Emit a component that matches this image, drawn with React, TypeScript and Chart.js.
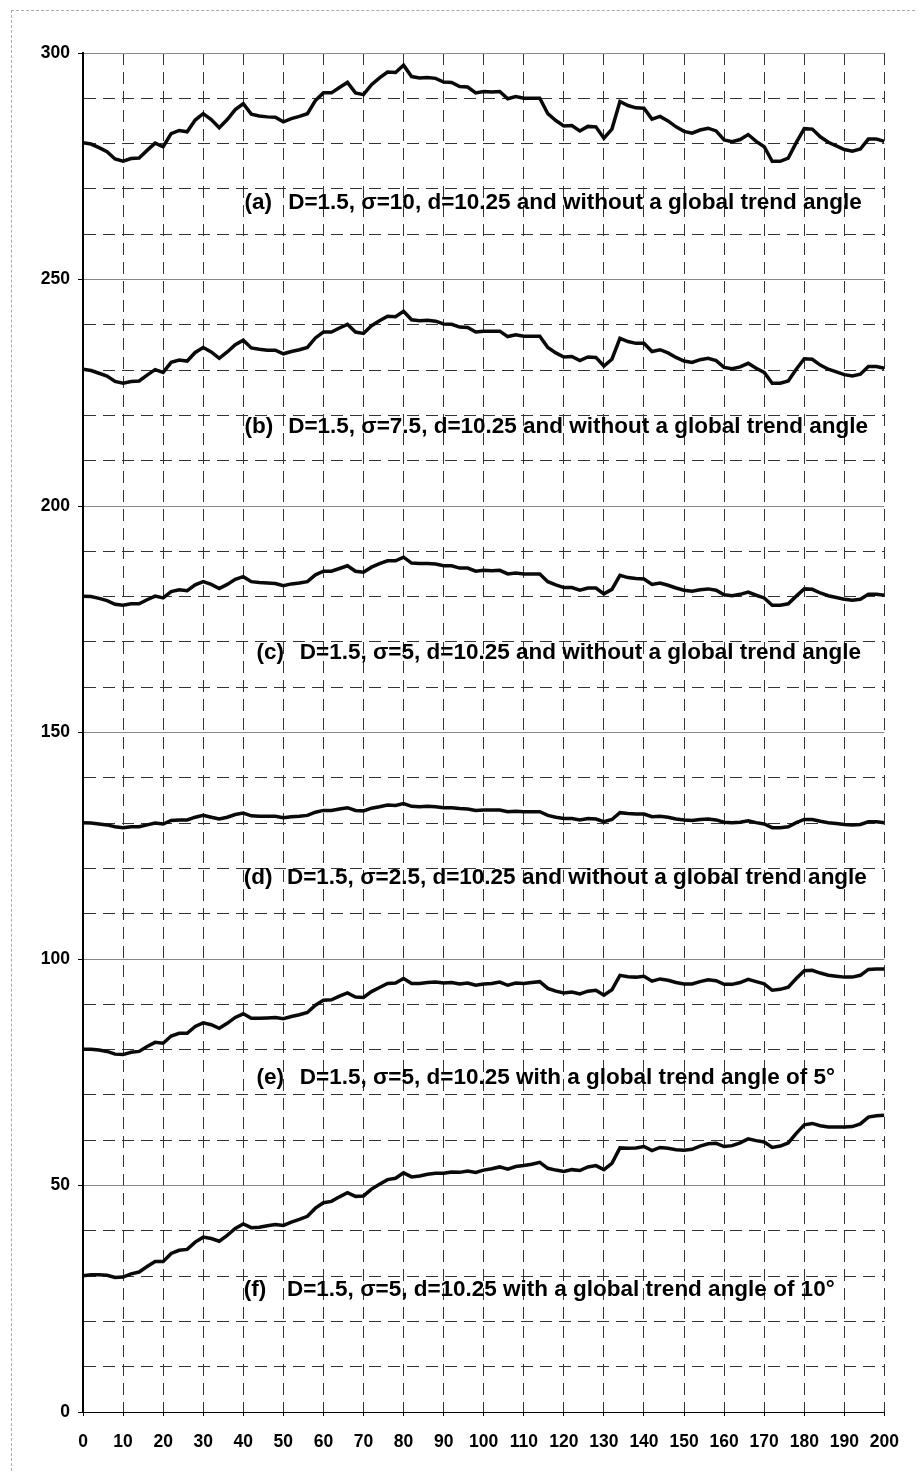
import React, { useEffect, useRef } from 'react';
import { Chart, registerables } from 'chart.js';

Chart.register(...registerables);

// x positions of the sampled points
const xValues = [
  0, 2, 4, 6, 8, 10, 12, 14, 16, 18, 20, 22, 24, 26, 28, 30, 32, 34, 36, 38,
  40, 42, 44, 46, 48, 50, 52, 54, 56, 58, 60, 62, 64, 66, 68, 70, 72, 74, 76, 78,
  80, 82, 84, 86, 88, 90, 92, 94, 96, 98, 100, 102, 104, 106, 108, 110, 112, 114, 116, 118,
  120, 122, 124, 126, 128, 130, 132, 134, 136, 138, 140, 142, 144, 146, 148, 150, 152, 154, 156, 158,
  160, 162, 164, 166, 168, 170, 172, 174, 176, 178, 180, 182, 184, 186, 188, 190, 192, 194, 196, 198, 200,
];

// (a) D=1.5, sigma=10
const seriesA = [
  280.2, 279.9, 279.1, 278.2, 276.6, 276.1, 276.7, 276.8, 278.5, 280.1, 279.3, 282.2, 282.9, 282.6, 285.2, 286.6, 285.3, 283.5, 285.3, 287.5,
  288.8, 286.5, 286.1, 285.9, 285.8, 284.8, 285.5, 286.0, 286.6, 289.5, 291.2, 291.2, 292.4, 293.5, 291.2, 290.8, 293.0, 294.5, 295.8, 295.7,
  297.3, 294.8, 294.5, 294.6, 294.4, 293.6, 293.5, 292.6, 292.5, 291.2, 291.5, 291.4, 291.5, 289.9, 290.4, 290.0, 290.0, 290.0, 286.6, 285.1,
  283.9, 284.0, 282.8, 283.8, 283.7, 281.2, 283.2, 289.3, 288.4, 287.9, 287.8, 285.4, 286.0, 285.0, 283.7, 282.7, 282.3, 283.0, 283.4, 282.8,
  280.8, 280.4, 280.9, 282.0, 280.5, 279.3, 276.1, 276.1, 276.8, 280.2, 283.3, 283.2, 281.5, 280.3, 279.5, 278.7, 278.3, 278.8, 281.0, 281.0, 280.5,
];

// (b) D=1.5, sigma=7.5
const seriesB = [
  230.2, 229.9, 229.3, 228.7, 227.5, 227.1, 227.5, 227.6, 228.9, 230.1, 229.5, 231.7, 232.2, 232.0, 233.9, 235.0, 234.0, 232.6, 234.0, 235.6,
  236.6, 234.9, 234.6, 234.4, 234.4, 233.6, 234.1, 234.5, 235.0, 237.1, 238.4, 238.4, 239.3, 240.1, 238.4, 238.1, 239.8, 240.9, 241.9, 241.8,
  243.0, 241.1, 240.9, 241.0, 240.8, 240.2, 240.1, 239.5, 239.4, 238.4, 238.6, 238.6, 238.6, 237.4, 237.8, 237.5, 237.5, 237.5, 235.0, 233.8,
  232.9, 233.0, 232.1, 232.9, 232.8, 230.9, 232.4, 237.0, 236.3, 235.9, 235.9, 234.1, 234.5, 233.8, 232.8, 232.0, 231.7, 232.3, 232.6, 232.1,
  230.6, 230.3, 230.7, 231.5, 230.4, 229.5, 227.1, 227.1, 227.6, 230.2, 232.5, 232.4, 231.1, 230.2, 229.6, 229.0, 228.7, 229.1, 230.8, 230.8, 230.4,
];

// (c) D=1.5, sigma=5
const seriesC = [
  180.1, 180.0, 179.6, 179.1, 178.3, 178.1, 178.4, 178.4, 179.3, 180.1, 179.7, 181.1, 181.5, 181.3, 182.6, 183.3, 182.7, 181.8, 182.7, 183.8,
  184.4, 183.3, 183.1, 183.0, 182.9, 182.4, 182.8, 183.0, 183.3, 184.8, 185.6, 185.6, 186.2, 186.8, 185.6, 185.4, 186.5, 187.3, 187.9, 187.9,
  188.7, 187.4, 187.3, 187.3, 187.2, 186.8, 186.8, 186.3, 186.3, 185.6, 185.8, 185.7, 185.8, 185.0, 185.2, 185.0, 185.0, 185.0, 183.3, 182.6,
  182.0, 182.0, 181.4, 181.9, 181.9, 180.6, 181.6, 184.7, 184.2, 184.0, 183.9, 182.7, 183.0, 182.5, 181.9, 181.4, 181.2, 181.5, 181.7, 181.4,
  180.4, 180.2, 180.5, 181.0, 180.3, 179.7, 178.1, 178.1, 178.4, 180.1, 181.7, 181.6, 180.8, 180.2, 179.8, 179.4, 179.2, 179.4, 180.5, 180.5, 180.3,
];

// (d) D=1.5, sigma=2.5
const seriesD = [
  130.1, 130.0, 129.8, 129.6, 129.2, 129.0, 129.2, 129.2, 129.6, 130.0, 129.8, 130.6, 130.7, 130.7, 131.3, 131.7, 131.3, 130.9, 131.3, 131.9,
  132.2, 131.6, 131.5, 131.5, 131.5, 131.2, 131.4, 131.5, 131.7, 132.4, 132.8, 132.8, 133.1, 133.4, 132.8, 132.7, 133.3, 133.6, 134.0, 133.9,
  134.3, 133.7, 133.6, 133.7, 133.6, 133.4, 133.4, 133.2, 133.1, 132.8, 132.9, 132.9, 132.9, 132.5, 132.6, 132.5, 132.5, 132.5, 131.7, 131.3,
  131.0, 131.0, 130.7, 131.0, 130.9, 130.3, 130.8, 132.3, 132.1, 132.0, 132.0, 131.4, 131.5, 131.3, 130.9, 130.7, 130.6, 130.8, 130.9, 130.7,
  130.2, 130.1, 130.2, 130.5, 130.1, 129.8, 129.0, 129.0, 129.2, 130.1, 130.8, 130.8, 130.4, 130.1, 129.9, 129.7, 129.6, 129.7, 130.3, 130.3, 130.1,
];

// (e) D=1.5, sigma=5, trend 5 deg
const seriesE = [
  80.1, 80.1, 79.9, 79.6, 79.0, 78.9, 79.4, 79.6, 80.7, 81.6, 81.4, 83.0, 83.6, 83.6, 85.1, 85.9, 85.5, 84.7, 85.8, 87.1,
  87.9, 86.9, 86.9, 87.0, 87.1, 86.8, 87.3, 87.7, 88.2, 89.8, 90.9, 91.0, 91.8, 92.5, 91.6, 91.5, 92.8, 93.7, 94.6, 94.7,
  95.7, 94.6, 94.6, 94.8, 94.9, 94.7, 94.8, 94.5, 94.7, 94.2, 94.5, 94.6, 94.9, 94.2, 94.7, 94.6, 94.8, 95.0, 93.5, 92.9,
  92.5, 92.7, 92.3, 92.9, 93.1, 92.0, 93.2, 96.4, 96.1, 96.0, 96.2, 95.1, 95.6, 95.3, 94.8, 94.5, 94.5, 95.0, 95.4, 95.2,
  94.4, 94.4, 94.8, 95.5, 95.0, 94.5, 93.1, 93.3, 93.8, 95.7, 97.4, 97.5, 96.9, 96.4, 96.2, 96.0, 96.0, 96.4, 97.7, 97.8, 97.8,
];

// (f) D=1.5, sigma=5, trend 10 deg
const seriesF = [
  30.1, 30.3, 30.3, 30.2, 29.7, 29.8, 30.5, 30.9, 32.1, 33.2, 33.2, 35.0, 35.7, 35.9, 37.5, 38.6, 38.3, 37.7, 39.0, 40.5,
  41.5, 40.7, 40.8, 41.1, 41.4, 41.2, 41.9, 42.5, 43.2, 45.0, 46.2, 46.5, 47.5, 48.4, 47.6, 47.7, 49.2, 50.3, 51.3, 51.6,
  52.8, 51.9, 52.1, 52.5, 52.7, 52.7, 53.0, 52.9, 53.2, 52.9, 53.4, 53.7, 54.1, 53.6, 54.2, 54.4, 54.7, 55.1, 53.8, 53.4,
  53.1, 53.5, 53.3, 54.1, 54.4, 53.5, 54.9, 58.3, 58.2, 58.3, 58.6, 57.7, 58.4, 58.2, 57.9, 57.8, 58.0, 58.7, 59.2, 59.3,
  58.6, 58.8, 59.4, 60.3, 59.9, 59.6, 58.4, 58.7, 59.4, 61.5, 63.4, 63.7, 63.2, 62.9, 62.9, 62.9, 63.0, 63.6, 65.1, 65.4, 65.5,
];

const xTickLabels = [
  '0', '10', '20', '30', '40', '50', '60', '70', '80', '90', '100',
  '110', '120', '130', '140', '150', '160', '170', '180', '190', '200',
];
const yTickLabels = ['0', '50', '100', '150', '200', '250', '300'];

const labelTags = ['(a)', '(b)', '(c)', '(d)', '(e)', '(f)'];
const labelTexts = [
  'D=1.5, σ=10, d=10.25 and without a global trend angle',
  'D=1.5, σ=7.5, d=10.25 and without a global trend angle',
  'D=1.5, σ=5, d=10.25 and without a global trend angle',
  'D=1.5, σ=2.5, d=10.25 and without a global trend angle',
  'D=1.5, σ=5, d=10.25 with a global trend angle of 5°',
  'D=1.5, σ=5, d=10.25 with a global trend angle of 10°',
];

// label anchors in data units
const labelTagX = [40.3, 40.3, 43.3, 40.1, 43.3, 40.1];
const labelTextX = [51.2, 51.2, 54.1, 50.9, 54.1, 50.9];
const labelY = [265.5, 216.2, 166.2, 116.6, 72.5, 25.6];

const FONT = '"Liberation Sans", Arial, Helvetica, sans-serif';

const labelPlugin = {
  id: 'curveLabels',
  afterDatasetsDraw(chart: any) {
    const { ctx } = chart;
    const xs = chart.scales.x;
    const ys = chart.scales.y;
    ctx.save();
    ctx.font = `bold 22.5px ${FONT}`;
    ctx.fillStyle = '#000';
    ctx.textBaseline = 'alphabetic';
    ctx.textAlign = 'left';
    labelTags.forEach((tag, i) => {
      const py = ys.getPixelForValue(labelY[i]);
      ctx.fillText(tag, xs.getPixelForValue(labelTagX[i]), py);
      ctx.fillText(labelTexts[i], xs.getPixelForValue(labelTextX[i]), py);
    });
    ctx.restore();
  },
};

const seriesList = [seriesA, seriesB, seriesC, seriesD, seriesE, seriesF];

export default function App() {
  const canvasRef = useRef<HTMLCanvasElement | null>(null);

  useEffect(() => {
    if (!canvasRef.current) return;
    const isMajorY = (v: number) => yTickLabels.includes(String(v));
    const chart = new Chart(canvasRef.current, {
      type: 'line',
      data: {
        datasets: seriesList.map((s) => ({
          data: xValues.map((xv, i) => ({ x: xv, y: s[i] })),
          borderColor: '#0a0a0a',
          borderWidth: 3.5,
          pointRadius: 0,
          tension: 0,
          fill: false,
        })),
      },
      options: {
        animation: false,
        responsive: false,
        maintainAspectRatio: false,
        layout: { padding: { top: 45, right: 23, bottom: 9, left: 0 } },
        plugins: { legend: { display: false }, tooltip: { enabled: false } },
        scales: {
          x: {
            type: 'linear',
            min: 0,
            max: 200,
            afterFit: (s: any) => {
              s.height = 50;
            },
            ticks: {
              stepSize: 10,
              autoSkip: false,
              maxRotation: 0,
              padding: 16,
              color: '#000',
              font: { family: FONT, size: 17.5, weight: 'bold' },
              callback: (v: any) => (xTickLabels.includes(String(v)) ? String(v) : ''),
            },
            grid: {
              color: '#333',
              lineWidth: 1,
              tickLength: 4,
              tickColor: '#000',
            },
            border: {
              display: true,
              color: '#000',
              width: 1,
              dash: (ctx: any) => (ctx.tick ? [12, 7] : []),
            },
          },
          y: {
            min: 0,
            max: 300,
            afterFit: (s: any) => {
              s.width = 75;
            },
            ticks: {
              stepSize: 10,
              autoSkip: false,
              padding: 8,
              color: '#000',
              font: { family: FONT, size: 17.5, weight: 'bold' },
              callback: (v: any) => (isMajorY(v) ? String(v) : ''),
            },
            grid: {
              color: (ctx: any) => (ctx.tick && isMajorY(ctx.tick.value) ? '#888' : '#333'),
              lineWidth: 1,
              tickLength: 5,
              tickColor: (ctx: any) =>
                ctx.tick && isMajorY(ctx.tick.value) ? '#000' : 'rgba(0,0,0,0)',
            },
            border: {
              display: true,
              color: '#000',
              width: 2,
              dash: (ctx: any) => (ctx.tick && !isMajorY(ctx.tick.value) ? [12, 7] : []),
            },
          },
        },
      },
      plugins: [labelPlugin],
    } as any);
    return () => chart.destroy();
  }, []);

  return (
    <div style={{ position: 'relative', width: 907, height: 1463, background: '#fff' }}>
      <div
        style={{
          position: 'absolute',
          left: 3,
          top: 2,
          right: 0,
          bottom: 0,
          borderTop: '1px dashed #aaa',
          borderLeft: '1px dashed #aaa',
        }}
      />
      <canvas
        ref={canvasRef}
        width={907}
        height={1463}
        style={{ position: 'absolute', left: 0, top: 0, display: 'block' }}
      />
    </div>
  );
}
